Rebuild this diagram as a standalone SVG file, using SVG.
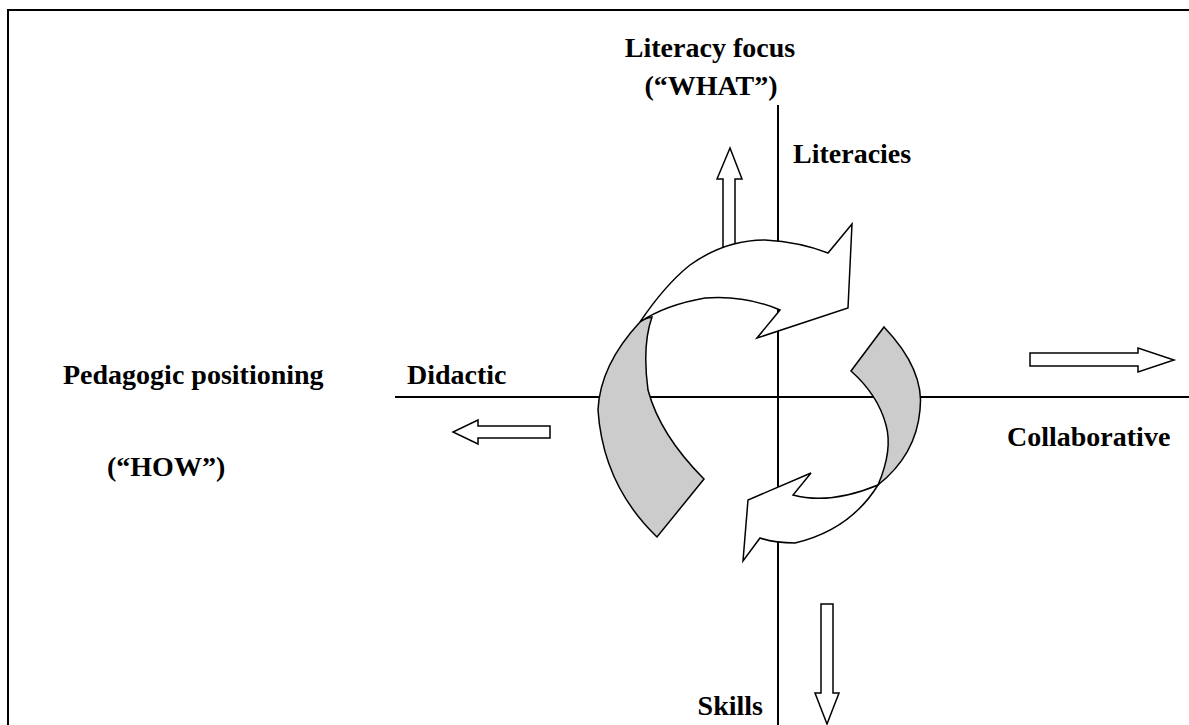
<svg xmlns="http://www.w3.org/2000/svg" width="1189" height="725" viewBox="0 0 1189 725">
<style>
.t{font-family:"Liberation Serif","Times New Roman",serif;font-weight:bold;font-size:28px;fill:#000}
.ln{stroke:#000;stroke-width:2;fill:none}
.ar{fill:#fff;stroke:#000;stroke-width:1.5;stroke-linejoin:miter}
.gr{fill:#cccccc;stroke:#000;stroke-width:1.5}
</style>
<rect width="1189" height="725" fill="#fff"/>
<g id="frame">
<path class="ln" d="M8,725 L8,10 L1189,10" stroke-width="2.5"/>
</g>
<g id="connectors">
<line class="ln" x1="395" y1="397" x2="1189" y2="397"/>
<line class="ln" x1="778" y1="105" x2="778" y2="725"/>
</g>
<g id="arrow-up"><path class="ar" d="M723,258 L723,179 L717,179 L730,148 L742,179 L735,179 L735,258 Z"/></g>
<g id="arrow-right"><path class="ar" d="M1030,353 L1138,353 L1138,348 L1174,360 L1138,372 L1138,366 L1030,366 Z"/></g>
<g id="arrow-left"><path class="ar" d="M550,426 L478,426 L478,420 L453,432 L478,444 L478,438 L550,438 Z"/></g>
<g id="arrow-down"><path class="ar" d="M821,604 L833,604 L833,693 L839,693 L827,724 L815,693 L821,693 Z"/></g>
<g id="cycle">
<path class="gr" d="M640,322 Q600,365 598,410 Q603,485 657,537 L704,479 Q660,435 648,390 Q642,345 652,317 Q645,318 640,322 Z"/>
<path class="ar" d="M640,322 Q665,285 690,265 Q725,240 765,240 Q800,242 828,253 L852,224 L848,308 L757,338 L780,310 Q745,295 705,298 Q665,305 640,322 Z"/>
<path class="gr" d="M884,327 Q925,370 920,410 Q916,455 878,485 Q893,450 886,425 Q878,395 851,371 Z"/>
<path class="ar" d="M878,485 Q850,530 795,543 Q775,543 760,538 L743,561 L748,500 L811,473 L793,495 Q830,505 878,485 Z"/>
</g>
<g id="labels">
<text class="t" x="710" y="57" text-anchor="middle">Literacy focus</text>
<text class="t" x="711" y="95" text-anchor="middle">(“WHAT”)</text>
<text class="t" x="793" y="163">Literacies</text>
<text class="t" x="63" y="384">Pedagogic positioning</text>
<text class="t" x="407" y="384">Didactic</text>
<text class="t" x="1007" y="446">Collaborative</text>
<text class="t" x="107" y="476">(“HOW”)</text>
<text class="t" x="763" y="715" text-anchor="end">Skills</text>
</g>
</svg>
